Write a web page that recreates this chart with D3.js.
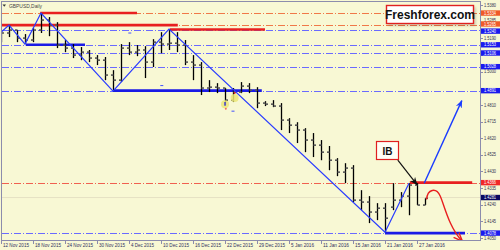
<!DOCTYPE html>
<html><head><meta charset="utf-8">
<script src="https://cdn.jsdelivr.net/npm/d3@7"></script>
<style>body{margin:0;background:#f8f8d4;}svg{display:block}</style>
</head><body><svg id="c" width="500" height="250"></svg>
<script>
// ---- data ----
const openP  = [1.5180,1.5220,1.5237,1.5191,1.5180,1.5237,1.5294,1.5265,1.5151,1.5134,1.5094,1.5111,1.5077,1.5065,1.4980,1.4951,1.5134,1.5111,1.5123,1.5054,1.5168,1.5157,1.5162,1.5151,1.5054,1.5037,1.4906,1.4911,1.4906,1.4837,1.4883,1.4917,1.4894,1.4820,1.4814,1.4803,1.4723,1.4694,1.4666,1.4609,1.4580,1.4540,1.4494,1.4426,1.4449,1.4266,1.4255,1.4198,1.4220,1.4226,1.4266,1.4289,1.4352,1.4238];
const highP  = [1.5237,1.5265,1.5237,1.5214,1.5248,1.5334,1.5311,1.5282,1.5180,1.5157,1.5140,1.5123,1.5094,1.5083,1.5008,1.5157,1.5168,1.5151,1.5145,1.5185,1.5225,1.5242,1.5225,1.5180,1.5094,1.5054,1.4951,1.4934,1.4906,1.4906,1.4940,1.4934,1.4911,1.4831,1.4837,1.4820,1.4734,1.4711,1.4677,1.4649,1.4609,1.4575,1.4506,1.4477,1.4466,1.4323,1.4289,1.4249,1.4249,1.4363,1.4312,1.4363,1.4363,1.4277];
const lowP   = [1.5168,1.5197,1.5168,1.5157,1.5168,1.5220,1.5202,1.5134,1.5111,1.5077,1.5065,1.5054,1.5037,1.4951,1.4888,1.4940,1.5094,1.5088,1.4963,1.5026,1.5105,1.5123,1.5111,1.5037,1.4951,1.4866,1.4883,1.4877,1.4808,1.4826,1.4877,1.4877,1.4791,1.4803,1.4797,1.4666,1.4649,1.4592,1.4540,1.4512,1.4494,1.4437,1.4403,1.4363,1.4255,1.4209,1.4135,1.4152,1.4083,1.4209,1.4226,1.4180,1.4238,1.4238];
const closeP = [1.5220,1.5237,1.5191,1.5180,1.5237,1.5294,1.5265,1.5151,1.5134,1.5094,1.5111,1.5077,1.5065,1.4980,1.4951,1.5134,1.5111,1.5123,1.5054,1.5168,1.5157,1.5162,1.5151,1.5054,1.5037,1.4906,1.4911,1.4906,1.4837,1.4883,1.4917,1.4894,1.4820,1.4814,1.4803,1.4723,1.4694,1.4666,1.4609,1.4580,1.4540,1.4494,1.4426,1.4449,1.4266,1.4255,1.4198,1.4220,1.4163,1.4266,1.4289,1.4352,1.4238,1.4277];

const dateIdx    = [0,4,8,12,16,20,24,28,32,36,40,44,48,52];
const dateLabels = ["12 Nov 2015","18 Nov 2015","24 Nov 2015","30 Nov 2015","4 Dec 2015","10 Dec 2015","16 Dec 2015","22 Dec 2015","29 Dec 2015","5 Jan 2016","11 Jan 2016","15 Jan 2016","21 Jan 2016","27 Jan 2016"];
const priceTicks = [1.5380,1.5285,1.5190,1.5095,1.5000,1.4905,1.4810,1.4715,1.4620,1.4525,1.4430,1.4335,1.4240,1.4145,1.4050];

// horizontal level lines (dash-dot, full width) and their axis labels
const levelPrices = [1.5334,1.5265,1.5240,1.5153,1.5106,1.5028,1.4891,1.4366,1.4078];
const levelKinds  = ["orange","orange","blue","blue","blue","blue","blue","red","blue"];
const bidPrice = 1.4281;

// zigzag
const zzIdx   = [-0.1,1,3,5,14,21,48,51];
const zzPrice = [1.5220,1.5265,1.5157,1.5334,1.4888,1.5242,1.4083,1.4363];

// thick segments
const blueSegStart = [3.1,14,48];
const blueSegEnd   = [10.5,32.6,58];
const blueSegPrice = [1.5153,1.4891,1.4078];
const redSegStart  = [-0.2,4.9,21.1,51.1];
const redSegEnd    = [22.1,17,33,58.9];
const redSegPrice  = [1.5265,1.5334,1.5240,1.4366];

// ---- drawing ----
const W=500,H=250, L=2, R=480, T=2, B=240;
const svg = d3.select("#c");
const x = d3.scaleLinear().domain([0,60]).range([1,481]);
const y = d3.scaleLinear().domain([1.4050,1.5380]).range([238,5]);
const colors = {orange:"#f07848", blue:"#6a6aff", red:"#f06050"};
const labelBg = {orange:"#f05a28", blue:"#1a1aee", red:"#f02828"};
// small vertical nudges (px) for crowded axis labels
const labelNudge = {"1.5265":-1.2,"1.5240":1.6,"1.5285":-1.6};

svg.append("rect").attr("width",W).attr("height",H).attr("fill","#f8f8d4");
const defs = svg.append("defs");
defs.append("clipPath").attr("id","clip").append("rect").attr("x",L).attr("y",T).attr("width",R-L).attr("height",B-T);
defs.append("filter").attr("id","blur").append("feGaussianBlur").attr("stdDeviation",1);
defs.append("marker").attr("id","mb").attr("viewBox","0 0 10 10").attr("refX",9).attr("refY",5)
   .attr("markerWidth",8).attr("markerHeight",8).attr("orient","auto").attr("markerUnits","userSpaceOnUse")
   .append("path").attr("d","M0,1 L10,5 L0,9 L3,5 z").attr("fill","#1a3cff");
defs.append("marker").attr("id","mk").attr("viewBox","0 0 10 10").attr("refX",9).attr("refY",5)
   .attr("markerWidth",8).attr("markerHeight",8).attr("orient","auto").attr("markerUnits","userSpaceOnUse")
   .append("path").attr("d","M0,1 L10,5 L0,9 L3,5 z").attr("fill","#111");
defs.append("marker").attr("id","mr").attr("viewBox","0 0 10 10").attr("refX",9).attr("refY",5)
   .attr("markerWidth",9).attr("markerHeight",9).attr("orient","auto").attr("markerUnits","userSpaceOnUse")
   .append("path").attr("d","M0,1 L10,5 L0,9").attr("fill","none").attr("stroke","#e82020").attr("stroke-width",1.6);

const g = svg.append("g").attr("clip-path","url(#clip)");

// dash-dot level lines
g.append("line").attr("x1",L).attr("x2",R).attr("y1",y(bidPrice)).attr("y2",y(bidPrice)).attr("stroke","#e6e2c4").attr("stroke-width",1);
levelPrices.forEach((p,k)=>{
  g.append("line").attr("x1",L).attr("x2",R).attr("y1",Math.round(y(p))+0.5).attr("y2",Math.round(y(p))+0.5)
   .attr("stroke",colors[levelKinds[k]]).attr("stroke-width",1).attr("stroke-dasharray","7,2,1,2");
});

// thick segments with shadows
function seg(i0,i1,p,color){
  g.append("line").attr("x1",x(i0)+1).attr("x2",x(i1)+1).attr("y1",y(p)+2.5).attr("y2",y(p)+2.5)
   .attr("stroke","#777").attr("stroke-width",3).attr("opacity",0.45).attr("filter","url(#blur)");
  g.append("line").attr("x1",x(i0)).attr("x2",x(i1)).attr("y1",y(p)).attr("y2",y(p))
   .attr("stroke",color).attr("stroke-width",2.6);
}
redSegPrice.forEach((p,k)=>seg(redSegStart[k],redSegEnd[k],p,"#e82020"));
blueSegPrice.forEach((p,k)=>seg(blueSegStart[k],blueSegEnd[k],p,"#1a1ae6"));

// bars
const bars = g.append("g");
openP.forEach((o,i)=>{
  const cx = Math.round(x(i))+0.5;
  bars.append("line").attr("x1",cx).attr("x2",cx).attr("y1",y(highP[i])).attr("y2",y(lowP[i])).attr("stroke","#000").attr("stroke-width",1.3);
  bars.append("line").attr("x1",cx-2.5).attr("x2",cx).attr("y1",y(o)).attr("y2",y(o)).attr("stroke","#555").attr("stroke-width",1.6);
  bars.append("line").attr("x1",cx).attr("x2",cx+2.5).attr("y1",y(closeP[i])).attr("y2",y(closeP[i])).attr("stroke","#555").attr("stroke-width",1.6);
});

// zigzag
g.append("path").attr("d",d3.line().x((d,k)=>x(zzIdx[k])).y(d=>y(d))(zzPrice))
 .attr("fill","none").attr("stroke","#2a3cff").attr("stroke-width",1.2);

// trade marks (yellow circles)
const markIdx=[28,29.2], markPrice=[1.4814,1.4849];
markIdx.forEach((mi,k)=>{
  g.append("circle").attr("cx",x(mi)).attr("cy",y(markPrice[k])).attr("r",4).attr("fill","#ece878").attr("opacity",0.85);
});
g.append("path").attr("d",`M${x(28)},${y(1.4826)} L${x(28)},${y(1.4805)}`).attr("stroke","#1a1ae6").attr("stroke-width",1.2);
g.append("circle").attr("cx",x(28.1)).attr("cy",y(1.4788)).attr("r",1).attr("fill","#f07060");
g.append("circle").attr("cx",x(29.2)).attr("cy",y(1.4877)).attr("r",1).attr("fill","#e02020");
// small dashes
[[16.1,1.5220],[20.1,1.4920],[29,1.4774]].forEach(d=>{
  g.append("line").attr("x1",x(d[0])-1.5).attr("x2",x(d[0])+1.5).attr("y1",y(d[1])).attr("y2",y(d[1])).attr("stroke","#4050ff").attr("stroke-width",1);
});

// blue arrow up
g.append("line").attr("x1",x(52.9)).attr("y1",y(1.4363)).attr("x2",x(57.6)).attr("y2",y(1.4834))
 .attr("stroke","#1a3cff").attr("stroke-width",1.4).attr("marker-end","url(#mb)");
// black arrow from IB
g.append("line").attr("x1",x(49.6)).attr("y1",y(1.4494)).attr("x2",x(52)).attr("y2",y(1.4355))
 .attr("stroke","#111").attr("stroke-width",1.2).attr("marker-end","url(#mk)");
// red curved arrow
g.append("path").attr("d",`M${x(53.2)},${y(1.4270)} C${x(53.3)},${y(1.4330)} ${x(54.4)},${y(1.4340)} ${x(54.9)},${y(1.4290)} S${x(56)},${y(1.4110)} ${x(57.6)},${y(1.4035)}`)
 .attr("fill","none").attr("stroke","#e82020").attr("stroke-width",1.4).attr("marker-end","url(#mr)");

// IB box
svg.append("rect").attr("x",376.5).attr("y",141.5).attr("width",22).attr("height",18).attr("fill","#fffff6").attr("stroke","#e02020").attr("stroke-width",1.2);
svg.append("text").attr("x",387.5).attr("y",154.5).attr("text-anchor","middle").attr("font-family","Liberation Sans, Arial, sans-serif").attr("font-weight","bold").attr("font-size",10).attr("fill","#111").text("IB");

// frame
svg.append("rect").attr("x",L-0.5).attr("y",T-0.5).attr("width",R-L+1).attr("height",B-T+1).attr("fill","none").attr("stroke","#8c8cac").attr("stroke-width",1);

// Freshforex box
svg.append("rect").attr("x",388).attr("y",7).attr("width",88).attr("height",19).attr("fill","#000").attr("opacity",0.15).attr("filter","url(#blur)");
svg.append("rect").attr("x",386.5).attr("y",5.5).attr("width",87).attr("height",18).attr("fill","#fff").attr("stroke","#e02020").attr("stroke-width",1.4);
svg.append("text").attr("x",430).attr("y",19).attr("text-anchor","middle").attr("font-family","Liberation Sans, Arial, sans-serif").attr("font-weight","bold").attr("font-size",12).attr("fill","#111").text("Freshforex.com");

// title
svg.append("path").attr("d","M2.5,4.5 L6,4.5 L4.25,6.8 Z").attr("fill","#333");
svg.append("text").attr("x",9).attr("y",7.5).attr("font-family","Liberation Sans, Arial, sans-serif").attr("font-size",5.5).attr("fill","#444").attr("textLength",33).attr("lengthAdjust","spacingAndGlyphs").text("GBPUSD,Daily");

// price axis
const ax = svg.append("g").attr("font-family","Liberation Sans, Arial, sans-serif").attr("font-size",4.6);
priceTicks.forEach(p=>{
  const yy = y(p);
  ax.append("line").attr("x1",R).attr("x2",R+3).attr("y1",Math.round(yy)+0.5).attr("y2",Math.round(yy)+0.5).attr("stroke","#8c8cac");
  const hidden = levelPrices.some(q=>Math.abs(y(q)-yy)<3.5);
  const ny = yy + (labelNudge[p.toFixed(4)]||0);
  if(!hidden) ax.append("text").attr("x",484).attr("y",ny+1.7).attr("fill","#303050").attr("textLength",12).attr("lengthAdjust","spacingAndGlyphs").text(p.toFixed(4));
});
function axisLabel(p,bg){
  const yy=y(p) + (labelNudge[p.toFixed(4)]||0);
  ax.append("rect").attr("x",481).attr("y",yy-2.7).attr("width",19).attr("height",5.4).attr("fill",bg);
  ax.append("text").attr("x",484).attr("y",yy+1.7).attr("fill","#fff").attr("textLength",12).attr("lengthAdjust","spacingAndGlyphs").text(p.toFixed(4));
}
levelPrices.forEach((p,k)=>axisLabel(p,labelBg[levelKinds[k]]));
axisLabel(bidPrice,"#0a0a60");

// date axis
const dx = svg.append("g").attr("font-family","Liberation Sans, Arial, sans-serif").attr("font-size",5);
dateIdx.forEach((di,k)=>{
  const xx = Math.round(x(di))+0.5;
  dx.append("line").attr("x1",xx).attr("x2",xx).attr("y1",B).attr("y2",B+4).attr("stroke","#8c8cac");
  dx.append("text").attr("x",xx+1.5).attr("y",247).attr("fill","#303060").attr("textLength",dateLabels[k].length>10?26:23).attr("lengthAdjust","spacingAndGlyphs").text(dateLabels[k]);
});
</script></body></html>
